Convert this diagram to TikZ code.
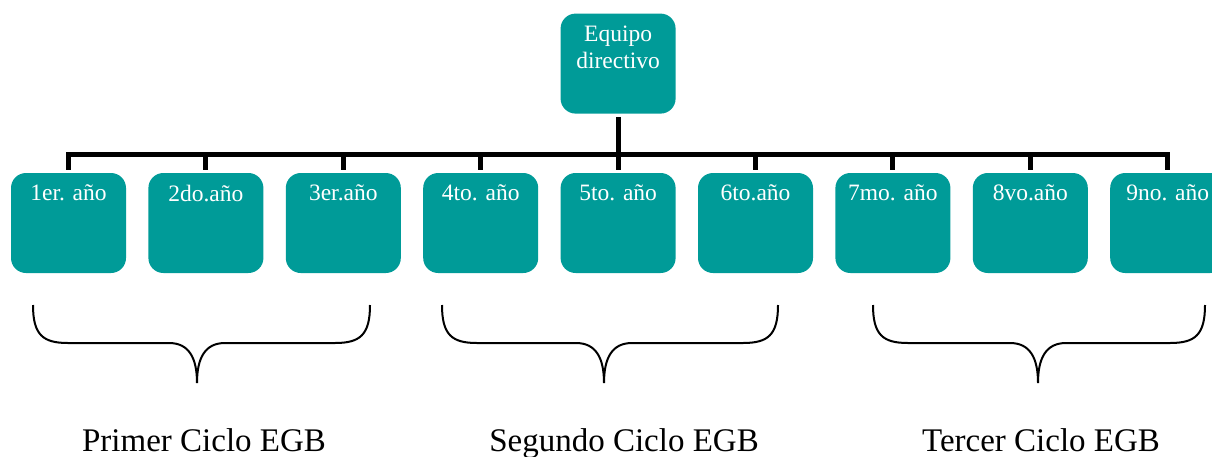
\documentclass[tikz,border=0pt]{standalone}
\usepackage{fontspec}
\setmainfont{Liberation Serif}
\usetikzlibrary{positioning}
\definecolor{tealbox}{RGB}{0,155,152}

\begin{document}
\begin{tikzpicture}[
    x=1pt, y=-1pt,
    node distance=59pt and 22pt,
    unit/.style={
        fill=tealbox,
        rounded corners=15pt,
        minimum width=115pt,
        minimum height=100pt,
        inner sep=0pt,
        label={[boxtext]north:{#1}}
    },
    boxtext/.style={
        anchor=north,
        yshift=-12pt,
        inner sep=0pt,
        align=center,
        text=white,
        font=\fontsize{23.5}{27}\selectfont
    },
    wire/.style={
        line width=5pt
    },
    brace/.style={
        line width=2pt
    },
    cyclelabel/.style={
        anchor=base,
        inner sep=0pt,
        font=\fontsize{33}{38}\selectfont
    }
]
\useasboundingbox (0,0) rectangle (1212,456);

% Years
\node[unit={1er. año}] (y1) at (68.5,223) {};
\node[unit={2do.año}, right=of y1] (y2) {};
\node[unit={3er.año}, right=of y2] (y3) {};
\node[unit={4to. año}, right=of y3] (y4) {};
\node[unit={5to. año}, right=of y4] (y5) {};
\node[unit={6to.año}, right=of y5] (y6) {};
\node[unit={7mo. año}, right=of y6] (y7) {};
\node[unit={8vo.año}, right=of y7] (y8) {};
\node[unit={9no. año}, right=of y8] (y9) {};

% Top
\node[unit={Equipo\\directivo}, above=of y5] (dir) {};

% Bus
\draw[wire] ([yshift=3pt]y1.north) |- ([yshift=18.5pt]y9.north) -- ([yshift=3pt]y9.north);
\foreach \i in {2,...,8}
    \draw[wire] ([yshift=3pt]y\i.north) -- ([yshift=18.5pt]y\i.north);
\draw[wire] ([yshift=-3pt]dir.south) -- ([yshift=18.5pt]y5.north);

% Braces
\foreach \l/\m/\r in {33/197/370, 442/604/778, 873/1038/1205}
    \draw[brace] (\l,305) .. controls (\l,335) and (\l+10,343) .. (\l+35,343)
        -- (\m-28,343) .. controls (\m-8,343) and (\m,358) .. (\m,383)
        .. controls (\m,358) and (\m+8,343) .. (\m+28,343)
        -- (\r-35,343) .. controls (\r-10,343) and (\r,335) .. (\r,305);

% Cycles
\node[cyclelabel] (c1) at (204,451) {Primer Ciclo EGB};
\node[cyclelabel] (c2) at (624,451) {Segundo Ciclo EGB};
\node[cyclelabel] (c3) at (1041,451) {Tercer Ciclo EGB};

\end{tikzpicture}
\end{document}
